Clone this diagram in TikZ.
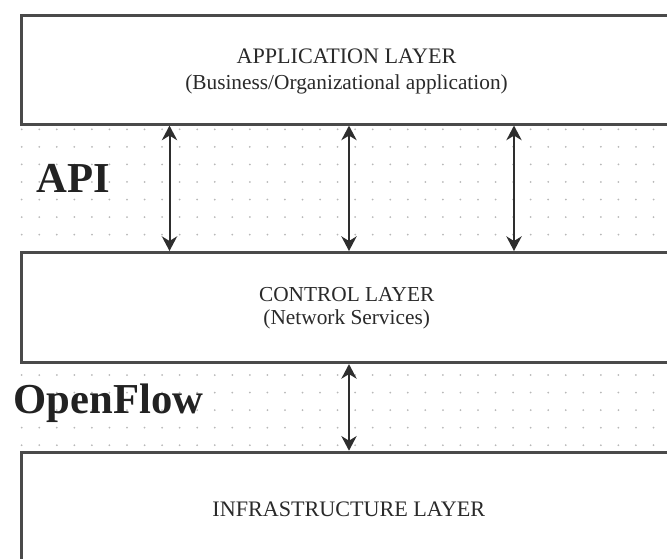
\documentclass[tikz,border=0pt]{standalone}
\usepackage{fontspec}
\setmainfont{Liberation Serif}
\usetikzlibrary{arrows.meta}
\definecolor{boxline}{HTML}{4A4A4A}
\definecolor{arrowc}{HTML}{2E2E2E}
\definecolor{txt}{HTML}{2A2A2A}
\definecolor{dotc}{HTML}{B8B8B8}
\tikzset{
  layer/.style={draw=boxline, line width=2.3pt, fill=white, rectangle, inner sep=0pt, anchor=north west},
  laytext/.style={inner sep=0pt, anchor=base, text=txt, font=\fontsize{16}{19}\selectfont},
  laytextw/.style={laytext, font=\fontsize{16.6}{19}\selectfont},
  biglabel/.style={inner sep=0pt, anchor=base west, text=txt!80!black, font=\bfseries\fontsize{32}{36}\selectfont},
  link/.style={draw=arrowc, line width=1.5pt, {Stealth[length=11pt,width=11.5pt,inset=3.5pt]}-{Stealth[length=11pt,width=11.5pt,inset=3.5pt]}},
  griddot/.style={fill=dotc, draw=none}
}
\begin{document}
\begin{tikzpicture}[x=0.75pt,y=-0.75pt]
\useasboundingbox (0,0) rectangle (667,558);
\clip (0,0) rectangle (667,558);
% dot grid in the gaps
\foreach \k in {0,...,36}{
  \foreach \r in {0,...,6}{
    \fill[griddot] ({21.7+17.55*\k},{129.3+17.55*\r}) circle (1.0);
  }
  \foreach \r in {14,...,18}{
    \fill[griddot] ({21.7+17.55*\k},{129.3+17.55*\r}) circle (1.0);
  }
}
% layers
\node[layer, minimum width=700*0.75pt, minimum height=109*0.75pt] (app) at (20,13.5) {};
\node[layer, minimum width=700*0.75pt, minimum height=110*0.75pt] (ctl) at (20,251) {};
\node[layer, minimum width=700*0.75pt, minimum height=160*0.75pt] (inf) at (20,450.7) {};
% layer texts
\node[laytextw] (appt1) at (346.5,63.3) {APPLICATION LAYER};
\node[laytext] (appt2) at (346.5,89.3) {(Business/Organizational application)};
\node[laytext] (ctlt1) at (346.7,301.7) {CONTROL LAYER};
\node[laytext] (ctlt2) at (346.7,324.8) {(Network Services)};
\node[laytextw] (inft) at (348.8,516) {INFRASTRUCTURE LAYER};
% side labels
\node[biglabel] (api) at (36.5,192.7) {API};
\node[biglabel] (of) at (13.5,413.3) {OpenFlow};
% connectors
\coordinate (a1) at (169.5,0);
\coordinate (a2) at (349,0);
\coordinate (a3) at (514,0);
\draw[link] (app.south -| a1) -- (ctl.north -| a1);
\draw[link] (app.south -| a2) -- (ctl.north -| a2);
\draw[link] (app.south -| a3) -- (ctl.north -| a3);
\draw[link] (ctl.south -| a2) -- (inf.north -| a2);
\end{tikzpicture}
\end{document}
